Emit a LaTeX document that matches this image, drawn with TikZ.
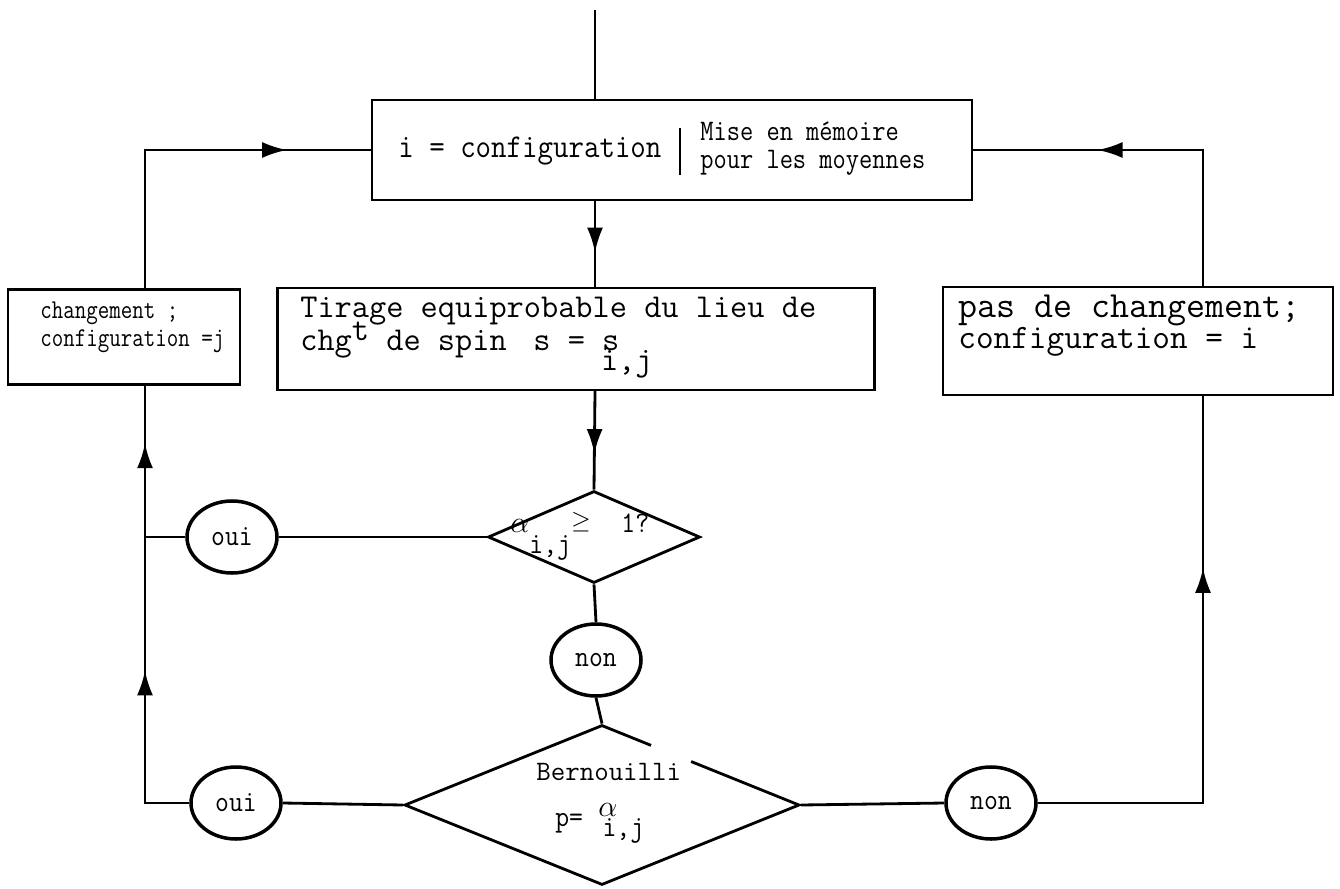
\documentclass[tikz,border=0pt]{standalone}
\usepackage{fontspec}
\usepackage{graphicx}
\usetikzlibrary{shapes.geometric,arrows.meta,decorations.markings,calc}
% texto de maquina de escribir, un poco estrechado
\newcommand{\sqz}[2]{\scalebox{#1}[1]{#2}}

\begin{document}
\begin{tikzpicture}[x=0.2mm, y=-0.2mm,
        % Estilo para las cajas
        box/.style={draw, line width=1.3pt, inner sep=0pt},
        % Estilo para los rombos de decision
        decision/.style={draw, diamond, line width=1.6pt, inner sep=0pt},
        % Estilo para las respuestas oui / non
        answer/.style={draw, ellipse, line width=2pt, inner sep=0pt,
            minimum width=18mm, minimum height=14.4mm, font=\ttfamily\fontsize{17}{17}\selectfont},
        % Estilo para los textos (linea por linea, sobre la linea base)
        txt/.style={anchor=base west, inner sep=0pt},
        fs/.style={font=\ttfamily\fontsize{#1}{#1}\selectfont},
        % Estilo para las lineas
        line/.style={line width=1.6pt},
        % Flecha a media linea
        midarrow/.style={line width=1.6pt, postaction={decorate},
            decoration={markings, mark=at position #1 with {\arrow{Latex[length=5mm,width=3.2mm]}}}}
    ]
        \useasboundingbox (0,0) rectangle (1340,889);

        % --- Cajas ---
        \node[box, minimum width=120mm, minimum height=20mm] (top) at (672,150) {};
        \node[box, minimum width=46.4mm, minimum height=19mm] (lbox) at (124,337) {};
        \node[box, minimum width=119.4mm, minimum height=20.4mm] (mbox) at (576,339) {};
        \node[box, minimum width=78mm, minimum height=21.6mm] (rbox) at (1138,341) {};

        % --- Rombos ---
        \node[decision, minimum width=79mm, minimum height=32mm] (d2) at (602,805) {};
        \node[decision, minimum width=42.4mm, minimum height=18.4mm] (d1) at (594,537) {};
        % hueco en el lado del rombo, detras de "Bernouilli"
        \draw[white, line width=4pt] ($(d2.north)!0.25!(d2.east)$) -- ($(d2.north)!0.45!(d2.east)$);

        % --- Respuestas ---
        \node[answer] (oui1) at (232,537) {\sqz{0.9}{oui}};
        \node[answer] (non1) at (596,660) {\sqz{0.9}{non}};
        \node[answer] (oui2) at (236,803) {\sqz{0.9}{oui}};
        \node[answer] (non2) at (991,803) {\sqz{0.9}{non}};

        % --- Textos ---
        \node[txt, fs=19] (tconf) at (398,158) {\sqz{0.9}{i = configuration}};
        \node[txt, fs=17] (tmem1) at (700,141) {\sqz{0.86}{Mise en mémoire}};
        \node[txt, fs=17] (tmem2) at (700,169) {\sqz{0.86}{pour les moyennes}};
        \node[txt, fs=15.5] (tchg1) at (40,318) {\sqz{0.82}{changement ;}};
        \node[txt, fs=15.5] (tchg2) at (40,346) {\sqz{0.82}{configuration =j}};
        \node[txt, fs=19] (ttir1) at (300,317) {Tirage equiprobable du lieu de};
        \node[txt, fs=19] (ttir2) at (300,350)
            {chg\raisebox{2mm}{t} de spin\hspace{0.8em}s = s\hspace{-0.55em}\raisebox{-4mm}{i,j}};
        \node[txt, fs=21] (tpas1) at (958,317) {pas de changement;};
        \node[txt, fs=19.5] (tpas2) at (958,348) {configuration = i};
        \node[txt, fs=17] (talpha) at (510,532)
            {$\alpha$\raisebox{-4.2mm}{\sqz{0.9}{i,j}}\raisebox{0.8mm}{\fontsize{14}{14}\selectfont$\geq$}\ \ \sqz{0.9}{1?}};
        \node[txt, fs=16] (tber) at (536,780) {Bernouilli};
        \node[txt, fs=17] (tp) at (555,826)
            {\sqz{0.9}{p=} \raisebox{2mm}{$\alpha$}\hspace{-0.5em}\raisebox{-2mm}{\sqz{0.9}{i,j}}};

        % --- Puntos de paso ---
        \coordinate (cx) at (595,10);
        \coordinate (lx) at (145,537);
        \coordinate (rx) at (1203,803);

        % --- Conexiones ---
        \draw[line] (cx) -- (cx |- top.north);
        \draw[line] (680,128) -- (680,175);
        \draw[midarrow=0.6] (cx |- top.south) -- (cx |- mbox.north);
        \draw[midarrow=0.64] (cx |- mbox.south) -- (d1.north);
        \draw[line] (d1.south) -- (non1.north);
        \draw[line] (non1.south) -- (d2.north);

        % rama oui
        \draw[line] (d1.west) -- (oui1.east);
        \draw[line] (oui1.west) -- (lx);
        \draw[midarrow=0.62] (lx) -- (lx |- lbox.south);
        \draw[line] (d2.west) -- (oui2.east);
        \draw[midarrow=0.57] (oui2.west) -| (lx);
        \draw[midarrow=0.77] (lx |- lbox.north) |- (top.west);

        % rama non
        \draw[line] (d2.east) -- (non2.west);
        \draw[midarrow=0.7] (non2.east) -| (rx |- rbox.south);
        \draw[midarrow=0.66] (rx |- rbox.north) |- (top.east);
    \end{tikzpicture}
\end{document}
